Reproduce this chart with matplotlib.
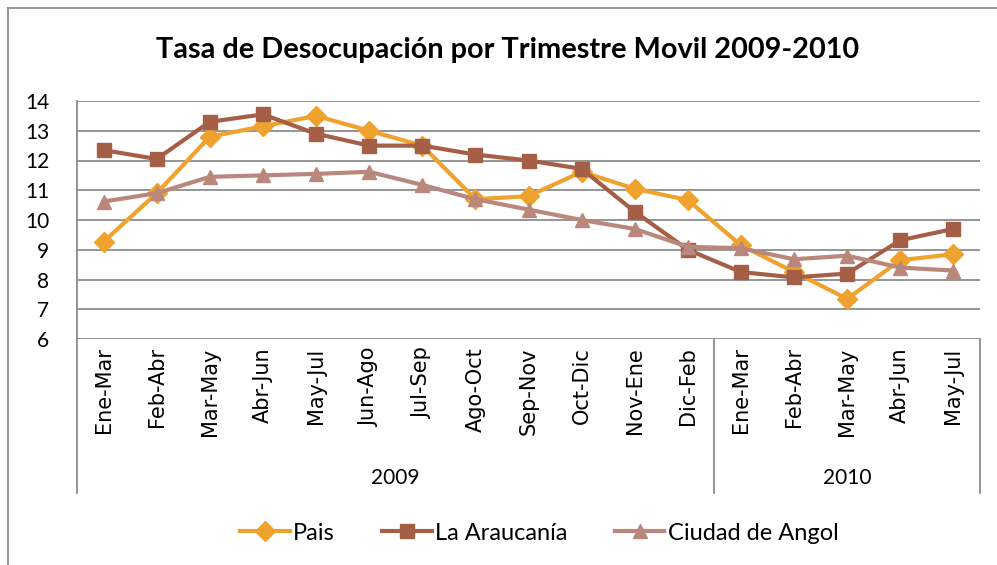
import matplotlib.pyplot as plt
from matplotlib.lines import Line2D
import matplotlib.transforms as mtransforms

meses = ['Ene-Mar', 'Feb-Abr', 'Mar-May', 'Abr-Jun', 'May-Jul', 'Jun-Ago',
         'Jul-Sep', 'Ago-Oct', 'Sep-Nov', 'Oct-Dic', 'Nov-Ene', 'Dic-Feb',
         'Ene-Mar', 'Feb-Abr', 'Mar-May', 'Abr-Jun', 'May-Jul']
anios = ['2009', '2010']
n_2009 = 12

pais = [9.27, 10.9, 12.8, 13.15, 13.5, 13.0, 12.5, 10.7, 10.8, 11.62, 11.05, 10.67,
        9.15, 8.25, 7.35, 8.65, 8.85]
araucania = [12.35, 12.05, 13.3, 13.55, 12.9, 12.5, 12.5, 12.2, 12.0, 11.72, 10.28, 9.0,
             8.25, 8.07, 8.2, 9.32, 9.7]
angol = [10.62, 10.9, 11.45, 11.5, 11.55, 11.62, 11.18, 10.7, 10.35, 10.0, 9.7, 9.1,
         9.05, 8.68, 8.8, 8.4, 8.3]

c_pais = '#F0A22E'
c_arau = '#A65F47'
c_ang = '#B9877B'
grid_c = '#8C8C8C'

fig = plt.figure(figsize=(9.97, 5.65), dpi=100)
ax = fig.add_axes([77/997, 1 - 339/565, (980-77)/997, (339-101)/565])

x = list(range(len(meses)))
ax.plot(x, pais, color=c_pais, lw=3, marker='D', ms=10, label='Pais')
ax.plot(x, araucania, color=c_arau, lw=3, marker='s', ms=9.5, label='La Araucanía')
ax.plot(x, angol, color=c_ang, lw=3, marker='^', ms=10, label='Ciudad de Angol')

ax.set_xlim(-0.5, len(meses) - 0.5)
ax.set_ylim(6, 14)
ax.set_yticks(range(6, 15))
for v in range(6, 15):
    ax.axhline(v, color=grid_c, lw=1.3, zorder=0)

for s in ['top', 'right', 'bottom']:
    ax.spines[s].set_visible(False)
ax.spines['left'].set_color(grid_c)
ax.spines['left'].set_linewidth(1.3)

ax.set_xticks(x)
ax.set_xticklabels(meses, rotation=90, family='DejaVu Sans', fontsize=15)
ax.tick_params(axis='x', length=0, pad=6)
ax.tick_params(axis='y', length=0, pad=20, labelsize=15)
for t in ax.get_yticklabels():
    t.set_family('Lato')

# separadores de años
tr = mtransforms.blended_transform_factory(ax.transData, ax.transAxes)
y_bot = -(493 - 339) / 238
for xs in [-0.5, n_2009 - 0.5, len(meses) - 0.5]:
    ax.add_line(Line2D([xs, xs], [0, y_bot], transform=tr, color=grid_c, lw=1.3, clip_on=False))
y_year = -(478 - 339) / 238
ax.text((n_2009 - 1) / 2, y_year, anios[0], transform=tr, ha='center', va='center',
        family='Lato', fontsize=15)
ax.text((n_2009 + len(meses) - 1) / 2, y_year, anios[1], transform=tr, ha='center', va='center',
        family='Lato', fontsize=15)

fig.text(0.509, 1 - 50/565, 'Tasa de Desocupación por Trimestre Movil 2009-2010',
         ha='center', va='center', family='Lato', fontweight='bold', fontsize=20.8)

fig.legend(loc='center', bbox_to_anchor=(0.541, 1 - 533/565), ncol=3, frameon=False,
           prop={'family': 'Lato', 'size': 17}, handlelength=2.1, columnspacing=2.0,
           handletextpad=0.15)

# borde exterior
fig.add_artist(Line2D([8/997, 1], [1 - 8/565, 1 - 8/565], transform=fig.transFigure,
                      color=grid_c, lw=1.3))
fig.add_artist(Line2D([8/997, 8/997], [0, 1 - 8/565], transform=fig.transFigure,
                      color=grid_c, lw=1.3))

fig.savefig('out.png', dpi=100)
